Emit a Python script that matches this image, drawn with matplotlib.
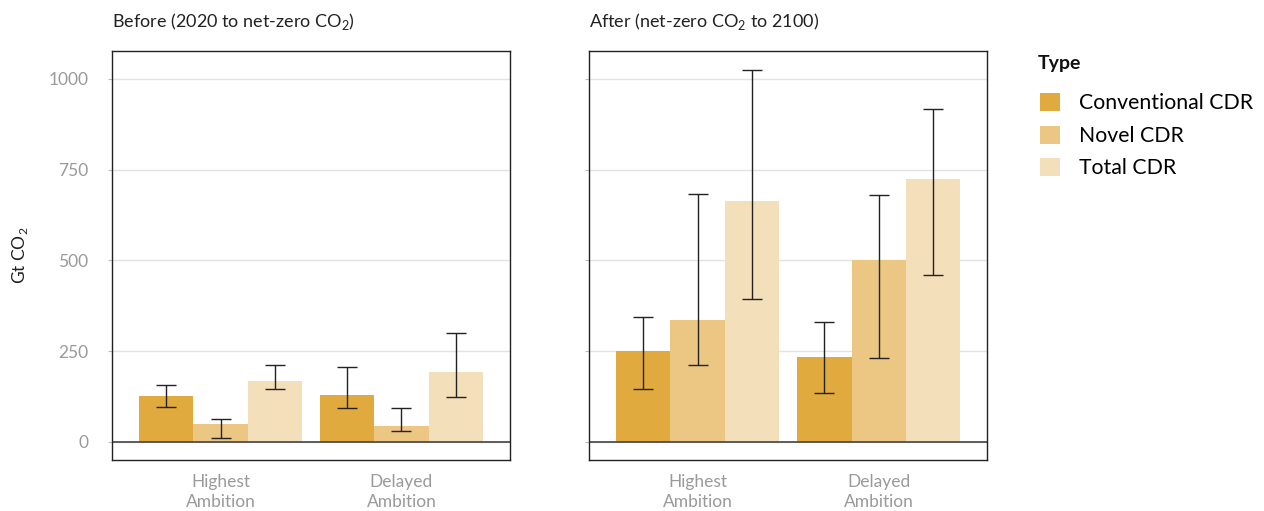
import matplotlib
matplotlib.use("Agg")
import matplotlib.pyplot as plt
import numpy as np
from matplotlib.patches import Patch

plt.rcParams["font.family"] = ["Lato", "DejaVu Sans"]
plt.rcParams["mathtext.fontset"] = "custom"
plt.rcParams["mathtext.rm"] = "Lato"

scenarios = ["Highest\nAmbition", "Delayed\nAmbition"]
types = ["Conventional CDR", "Novel CDR", "Total CDR"]
colors = ["#e0aa3e", "#ebc783", "#f4dfbb"]

# before net-zero: value, low, high per type, per scenario
before_val = {"Conventional CDR": [126, 129], "Novel CDR": [49, 43], "Total CDR": [167, 192]}
before_lo = {"Conventional CDR": [97, 93], "Novel CDR": [11, 30], "Total CDR": [146, 124]}
before_hi = {"Conventional CDR": [156, 205], "Novel CDR": [62, 94], "Total CDR": [211, 300]}

# after net-zero
after_val = {"Conventional CDR": [250, 233], "Novel CDR": [336, 500], "Total CDR": [664, 724]}
after_lo = {"Conventional CDR": [145, 135], "Novel CDR": [213, 231], "Total CDR": [393, 461]}
after_hi = {"Conventional CDR": [343, 330], "Novel CDR": [684, 679], "Total CDR": [1026, 918]}

titles = ["Before (2020 to net-zero CO$_\\mathrm{2}$)", "After (net-zero CO$_\\mathrm{2}$ to 2100)"]

fig = plt.figure(figsize=(12.64, 5.11), dpi=100)
ax1 = fig.add_axes([0.0886, 0.0998, 0.3149, 0.801])
ax2 = fig.add_axes([0.466, 0.0998, 0.3151, 0.801])

x = np.arange(1, len(scenarios) + 1)
w = 0.3

for ax, vals, lo, hi, title in [(ax1, before_val, before_lo, before_hi, titles[0]),
                                (ax2, after_val, after_lo, after_hi, titles[1])]:
    for i, t in enumerate(types):
        pos = x + (i - 1) * w
        v = np.array(vals[t])
        ax.bar(pos, v, width=w, color=colors[i], zorder=2)
        yerr = [v - np.array(lo[t]), np.array(hi[t]) - v]
        ax.errorbar(pos, v, yerr=yerr, fmt="none", ecolor="#222222", elinewidth=1,
                    capsize=7, capthick=1, zorder=3)
    ax.axhline(0, color="#444444", lw=1.2, zorder=2.5)
    ax.set_xlim(0.4, 2.6)
    ax.set_ylim(-50, 1078)
    ax.set_yticks([0, 250, 500, 750, 1000])
    ax.grid(axis="y", color="#e3e3e3", lw=1, zorder=0)
    ax.set_axisbelow(True)
    ax.set_xticks(x)
    ax.set_xticklabels(scenarios, color="#9a9a9a", fontsize=12.5, linespacing=1.3)
    ax.tick_params(axis="x", length=0, pad=10)
    ax.tick_params(axis="y", length=3, color="#bbbbbb", labelcolor="#9a9a9a", labelsize=12.5, pad=14)
    for s in ax.spines.values():
        s.set_color("#222222")
        s.set_linewidth(1)
    ax.text(0.0, 1.045, title, transform=ax.transAxes, ha="left", va="bottom",
            fontsize=13, color="#222222")

ax2.set_yticklabels([])
ax1.set_ylabel("Gt CO$_\\mathrm{2}$", fontsize=12.5, color="#222222", labelpad=13)

fig.text(1038 / 1264, 1 - 63 / 511, "Type", fontsize=14, fontweight="bold",
         ha="left", va="center", color="#111111")
handles = [Patch(facecolor=c, edgecolor="none") for c in colors]
leg = fig.legend(handles, types, loc="upper left", bbox_to_anchor=(1021 / 1264, 1 - 74 / 511),
                 frameon=False, fontsize=15.3, handlelength=0.93,
                 handleheight=0.93, handletextpad=0.9, labelspacing=0.57)

fig.savefig("out.png", dpi=100)
